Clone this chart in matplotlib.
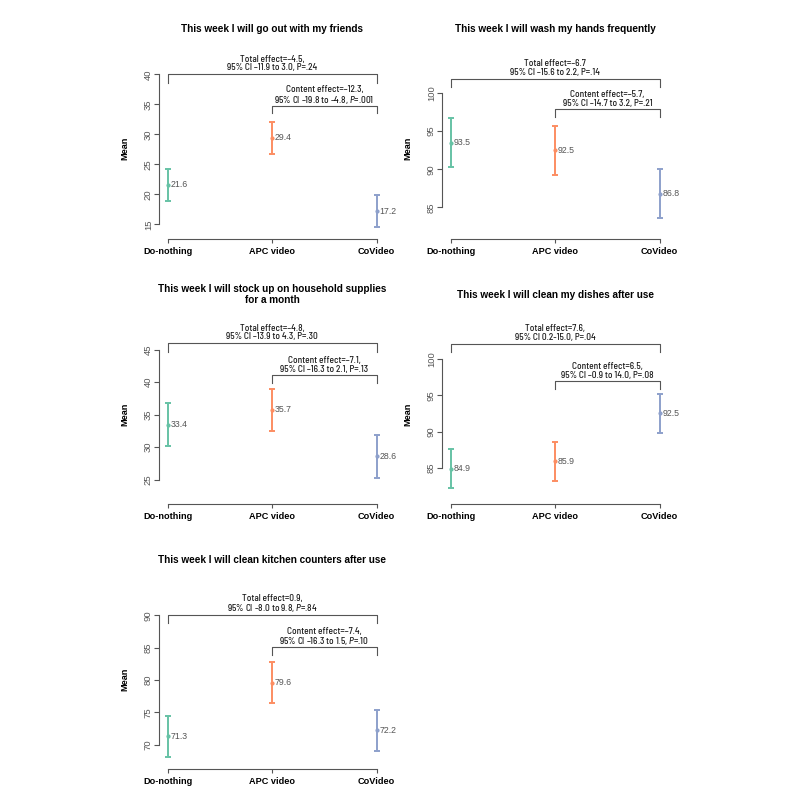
import matplotlib
matplotlib.use("Agg")
import matplotlib.pyplot as plt
from matplotlib import font_manager
from matplotlib.transforms import blended_transform_factory

groups = ["Do-nothing", "APC video", "CoVideo"]
colors = ["#66C2A5", "#FC8D62", "#8DA0CB"]

titles = [
    "This week I will go out with my friends",
    "This week I will wash my hands frequently",
    "This week I will stock up on household supplies\nfor a month",
    "This week I will clean my dishes after use",
    "This week I will clean kitchen counters after use",
]

means = [
    [21.6, 29.4, 17.2],
    [93.5, 92.5, 86.8],
    [33.4, 35.7, 28.6],
    [84.9, 85.9, 92.5],
    [71.3, 79.6, 72.2],
]
ci_half = [
    [2.7, 2.7, 2.7],
    [3.2, 3.2, 3.2],
    [3.3, 3.3, 3.3],
    [2.7, 2.7, 2.7],
    [3.2, 3.2, 3.2],
]

total_text = [
    "Total effect=–4.5,\n95% CI –11.9 to 3.0, P=.24",
    "Total effect=–6.7\n95% CI –15.6 to 2.2, P=.14",
    "Total effect=–4.8,\n95% CI –13.9 to 4.3, P=.30",
    "Total effect=7.6,\n95% CI 0.2-15.0, P=.04",
    "Total effect=0.9,\n95% CI –8.0 to 9.8, $\\mathit{P}$=.84",
]
content_text = [
    "Content effect=–12.3,\n95% CI –19.8 to –4.8, $\\mathit{P}$=.001",
    "Content effect=–5.7,\n95% CI –14.7 to 3.2, P=.21",
    "Content effect=–7.1,\n95% CI –16.3 to 2.1, P=.13",
    "Content effect=6.5,\n95% CI –0.9 to 14.0, P=.08",
    "Content effect=–7.4,\n95% CI –16.3 to 1.5, $\\mathit{P}$=.10",
]

yticks = [
    [15, 20, 25, 30, 35, 40],
    [85, 90, 95, 100],
    [25, 30, 35, 40, 45],
    [85, 90, 95, 100],
    [70, 75, 80, 85, 90],
]

# layout (pixels on an 800x799 canvas)
ylims = [(12.6, 42.6), (80.9, 104.5), (21.2, 48.9), (80.0, 104.8), (66.2, 94.0)]
col_left = [159.3, 442.3]
row_bottom = [238.7, 504.2, 769.3]
W, H = 225.7, 180.0
total_h = [164.4, 159.7, 160.9, 160.2, 154.3]
content_h = [133.0, 129.7, 129.2, 123.2, 122.0]

installed = {f.name for f in font_manager.fontManager.ttflist}
narrow = "Liberation Sans Narrow"
for cand in ["Barlow Semi Condensed", "Liberation Sans Narrow", "Archivo Narrow"]:
    if cand in installed:
        narrow = cand
        break
main = "Liberation Sans"
plt.rcParams["font.family"] = [main, "DejaVu Sans"]
plt.rcParams["mathtext.fontset"] = "custom"
plt.rcParams["mathtext.rm"] = narrow + ":medium"
plt.rcParams["mathtext.it"] = narrow + ":italic:medium"

fig = plt.figure(figsize=(8, 7.99), dpi=100)
axis_col = "#555555"
txt_col = "#1a1a1a"
eff_font = dict(fontsize=6.7, family=[narrow, "DejaVu Sans"], fontweight=500,
                color=txt_col, ha="center", va="center", linespacing=0.95)

for i in range(5):
    r, c = divmod(i, 2)
    left = col_left[c] / 800
    bottom = (799 - row_bottom[r]) / 799
    ax = fig.add_axes([left, bottom, W / 800, H / 799])
    x = [1, 2, 3]
    for k in range(3):
        ax.errorbar(x[k], means[i][k], yerr=ci_half[i][k], fmt="o", ms=2,
                    color=colors[k], ecolor=colors[k], elinewidth=1.4,
                    capsize=2.4, capthick=1.4)
        ax.text(x[k] + 0.025, means[i][k], "%.1f" % means[i][k], fontsize=6.3,
                color="#555555", ha="left", va="center", family=main)
    ax.set_xlim(0.92, 3.08)
    ax.set_ylim(*ylims[i])
    ax.set_xticks(x)
    ax.set_xticklabels(groups, fontsize=6.6, fontweight="bold")
    ax.set_yticks(yticks[i])
    ax.set_yticklabels([str(t) for t in yticks[i]], fontsize=6.8, color="#555555",
                       rotation=90, va="center")
    for s in ["top", "right"]:
        ax.spines[s].set_visible(False)
    ax.spines["left"].set_bounds(yticks[i][0], yticks[i][-1])
    ax.spines["bottom"].set_bounds(1, 3)
    for s in ["left", "bottom"]:
        ax.spines[s].set_color(axis_col)
        ax.spines[s].set_linewidth(0.8)
    ax.tick_params(axis="y", length=3.6, width=0.8, color=axis_col, pad=1.0)
    ax.tick_params(axis="x", length=2.9, width=0.8, color=axis_col, pad=3.0)

    ax.text(-34 / W, 0.5, "Mean", rotation=90, ha="center", va="center",
            fontsize=6.6, fontweight="bold", transform=ax.transAxes)
    ax.text(0.5, 209.5 / H, titles[i], ha="center", va="center", fontsize=7.2,
            fontweight="bold", transform=ax.transAxes, linespacing=1.15)

    tr = blended_transform_factory(ax.transData, ax.transAxes)
    # total effect bracket (Do-nothing to CoVideo)
    yb = total_h[i] / H
    leg = 8.2 / H
    ax.plot([1, 1, 3, 3], [yb - leg, yb, yb, yb - leg], color=axis_col, lw=0.8,
            transform=tr, clip_on=False)
    ax.text(2, yb + 10.8 / H, total_text[i], transform=tr, **eff_font)
    # content effect bracket (APC video to CoVideo)
    yc = content_h[i] / H
    leg = 7.6 / H
    ax.plot([2, 2, 3, 3], [yc - leg, yc, yc, yc - leg], color=axis_col, lw=0.8,
            transform=tr, clip_on=False)
    ax.text(2.5, yc + 10.2 / H, content_text[i], transform=tr, **eff_font)

fig.savefig("out.png", dpi=100)
